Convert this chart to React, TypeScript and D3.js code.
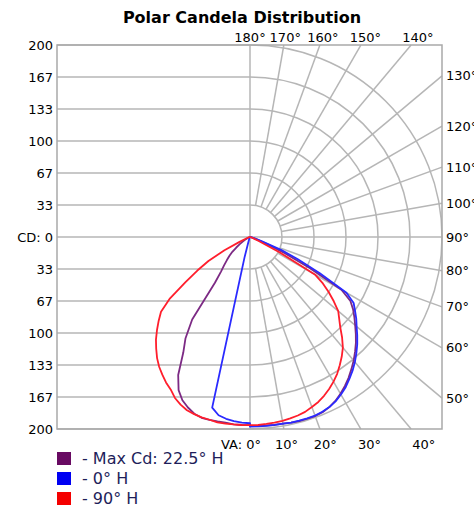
import React from "react";
import * as d3 from "d3";

// Vertical angles (degrees from nadir) at which candela values were read
const verticalAngles = [
  0, 2.5, 5, 7.5, 10, 12.5, 15, 17.5, 20, 22.5, 25, 27.5, 30, 32.5, 35, 37.5,
  40, 42.5, 45, 47.5, 50, 52.5, 55, 57.5, 60, 62.5, 65, 67.5, 70, 72.5, 75,
  77.5, 80, 82.5, 85, 87.5, 90,
];

// Max Cd plane: 22.5° H (right) and its opposite 202.5° H (left)
const maxCdRight = [
  197, 197, 197, 197.5, 197.5, 198, 198.5, 198.5, 198.5, 197.5, 195.5, 192.5,
  188.5, 184, 179, 173.5, 168, 162, 156, 149.5, 143, 137, 131, 124, 110, 70,
  40, 20, 8, 4, 2, 1, 0.5, 0, 0, 0, 0,
];
const maxCdLeft = [
  196, 196, 196, 195, 195, 195, 195, 193, 189, 184, 176, 162, 139, 125, 105,
  60, 47, 40, 34, 29, 24, 18, 13, 9, 6, 4, 3, 2, 1, 0.5, 0, 0, 0, 0, 0, 0, 0,
];

// 0° H (right) and 180° H (left)
const h0Right = [
  197.5, 197.5, 197.5, 197.5, 197.5, 198, 198, 198, 198, 197, 195.5, 193,
  189.5, 185.5, 180.5, 175.5, 170, 164, 158, 151.5, 145, 139.5, 133.5, 128,
  116, 82, 55, 35, 12, 5, 3, 2, 1, 0.5, 0, 0, 0,
];
const h0Left = [
  194, 193.5, 192.5, 191, 188.5, 182, 22, 6, 3, 2, 1, 0, 0, 0, 0, 0, 0, 0, 0,
  0, 0, 0, 0, 0, 0, 0, 0, 0, 0, 0, 0, 0, 0, 0, 0, 0, 0,
];

// 90° H (right) and 270° H (left)
const h90Right = [
  196, 196, 195.5, 195, 194.5, 193.5, 192.5, 191, 188.5, 186, 182.5, 178.5,
  174, 169, 163, 157, 150.5, 142, 133, 126, 120, 110, 100, 90, 78, 35, 10, 5,
  3, 2, 1, 0.5, 0, 0, 0, 0, 0,
];
const h90Left = [
  196, 196, 196, 196, 196, 195, 194.5, 193.5, 192, 189, 185, 179, 175, 170,
  165, 159, 152, 145, 137, 129, 121, 105, 82, 65, 50, 30, 12, 6, 3, 2, 1, 0.5,
  0, 0, 0, 0, 0,
];

const seriesNames = ["- Max Cd: 22.5° H", "- 0° H", "- 90° H"];
const seriesColors = ["#7c2a84", "#2a2aff", "#ff1e2c"];
const swatchColors = ["#680a62", "#0000f2", "#f40000"];

// Candela axis
const cdTicks = [0, 100 / 3, 200 / 3, 100, 400 / 3, 500 / 3, 200];
const cdTickLabels = ["CD: 0", "33", "67", "100", "133", "167", "200"];

// Polar grid angles
const gridAngles = [
  0, 10, 20, 30, 40, 50, 60, 70, 80, 90, 100, 110, 120, 130, 140, 150, 160,
  170, 180,
];

const width = 474;
const height = 510;
const cx = 250;
const cy = 237;
const R = 192;
const gridColor = "#b6b6b6";
const font = "'DejaVu Sans', Verdana, sans-serif";

const rad = (d: number) => (d * Math.PI) / 180;

export default function App() {
  const r = d3.scaleLinear().domain([0, 200]).range([0, R]);
  const yUp = d3.scaleLinear().domain([0, 200]).range([cy, cy - R]);
  const yDown = d3.scaleLinear().domain([0, 200]).range([cy, cy + R]);

  const left = cx - R - 1;
  const right = cx + R;
  const top = cy - R;
  const bottom = cy + R;

  const polar = (va: number, cd: number, side: number): [number, number] => [
    cx + side * r(cd) * Math.sin(rad(va)),
    cy + r(cd) * Math.cos(rad(va)),
  ];

  const line = d3
    .line<[number, number]>()
    .x((d) => d[0])
    .y((d) => d[1]);

  const series = [
    { l: maxCdLeft, rt: maxCdRight },
    { l: h0Left, rt: h0Right },
    { l: h90Left, rt: h90Right },
  ];

  const curvePath = (lv: number[], rv: number[]) => {
    const pts: [number, number][] = [];
    for (let i = verticalAngles.length - 1; i >= 0; i--)
      pts.push(polar(verticalAngles[i], lv[i], -1));
    for (let i = 0; i < verticalAngles.length; i++)
      pts.push(polar(verticalAngles[i], rv[i], 1));
    return line(pts) as string;
  };

  // Right half rings
  const rings = cdTicks.slice(1).map((v) => {
    const p = d3.path();
    p.moveTo(cx, cy - r(v));
    p.arc(cx, cy, r(v), -Math.PI / 2, Math.PI / 2, false);
    return p.toString();
  });

  // Radial spokes from the first ring to the frame
  const spokes = gridAngles
    .filter((a) => a > 0 && a < 180 && a !== 90)
    .map((a) => {
      const s = Math.sin(rad(a));
      const c = Math.cos(rad(a));
      const t = Math.min(R / Math.abs(s), R / Math.abs(c));
      return {
        x1: cx + r(cdTicks[1]) * s,
        y1: cy + r(cdTicks[1]) * c,
        x2: cx + t * s,
        y2: cy + t * c,
      };
    });

  // Angle labels around the frame
  const angleLabels = gridAngles.map((a) => {
    if (a > 135) {
      const ty = 37;
      return {
        text: `${a}°`,
        x: cx + (cy - ty) * Math.tan(rad(180 - a)),
        y: ty,
        anchor: "middle",
      };
    }
    if (a >= 45) {
      return {
        text: `${a}°`,
        x: right + 4,
        y: cy + (R * Math.cos(rad(a))) / Math.sin(rad(a)),
        anchor: "start",
      };
    }
    const ty = 444;
    if (a === 0) return { text: "VA: 0°", x: cx + 11, y: ty, anchor: "end" };
    return {
      text: `${a}°`,
      x: cx + (ty - cy) * Math.tan(rad(a)),
      y: ty,
      anchor: "middle",
    };
  });

  return (
    <svg
      width={width}
      height={height}
      style={{ position: "absolute", left: 0, top: 0, background: "#fff" }}
    >
      <text
        x={242}
        y={23}
        textAnchor="middle"
        fontFamily={font}
        fontWeight="bold"
        fontSize={16}
      >
        Polar Candela Distribution
      </text>

      {/* left half: horizontal grid */}
      <g stroke={gridColor} strokeWidth={1.5}>
        {cdTicks.slice(1).map((v) => (
          <React.Fragment key={v}>
            <line x1={left} x2={cx} y1={yUp(v)} y2={yUp(v)} />
            <line x1={left} x2={cx} y1={yDown(v)} y2={yDown(v)} />
          </React.Fragment>
        ))}
        <line x1={left} x2={right} y1={cy} y2={cy} />
        <line x1={cx} x2={cx} y1={top} y2={bottom} />
      </g>

      {/* right half: polar grid */}
      <g stroke={gridColor} strokeWidth={1.5} fill="none">
        {rings.map((d, i) => (
          <path key={i} d={d} />
        ))}
        {spokes.map((s, i) => (
          <line key={i} {...s} />
        ))}
      </g>

      <rect
        x={left}
        y={top}
        width={right - left}
        height={bottom - top}
        fill="none"
        stroke="#a9a9a9"
        strokeWidth={1.5}
      />

      {/* candela curves */}
      <g fill="none" strokeWidth={1.8} strokeLinejoin="round">
        {series.map((s, i) => (
          <path key={i} d={curvePath(s.l, s.rt)} stroke={seriesColors[i]} />
        ))}
      </g>

      {/* CD labels */}
      <g fontFamily={font} fontSize={13} textAnchor="end">
        {cdTicks.map((v, i) => (
          <React.Fragment key={v}>
            <text x={53} y={yUp(v)} dy="0.35em">
              {cdTickLabels[i]}
            </text>
            {i > 0 && (
              <text x={53} y={yDown(v)} dy="0.35em">
                {cdTickLabels[i]}
              </text>
            )}
          </React.Fragment>
        ))}
      </g>

      {/* angle labels */}
      <g fontFamily={font} fontSize={13}>
        {angleLabels.map((l, i) => (
          <text key={i} x={l.x} y={l.y} dy="0.35em" textAnchor={l.anchor}>
            {l.text}
          </text>
        ))}
      </g>

      {/* legend */}
      <g fontFamily={font} fontSize={16} fill="#1e1e5a">
        {seriesNames.map((n, i) => (
          <g key={n} transform={`translate(57, ${452 + i * 20})`}>
            <rect width={14} height={13} fill={swatchColors[i]} />
            <text x={25} y={12}>
              {n}
            </text>
          </g>
        ))}
      </g>
    </svg>
  );
}
